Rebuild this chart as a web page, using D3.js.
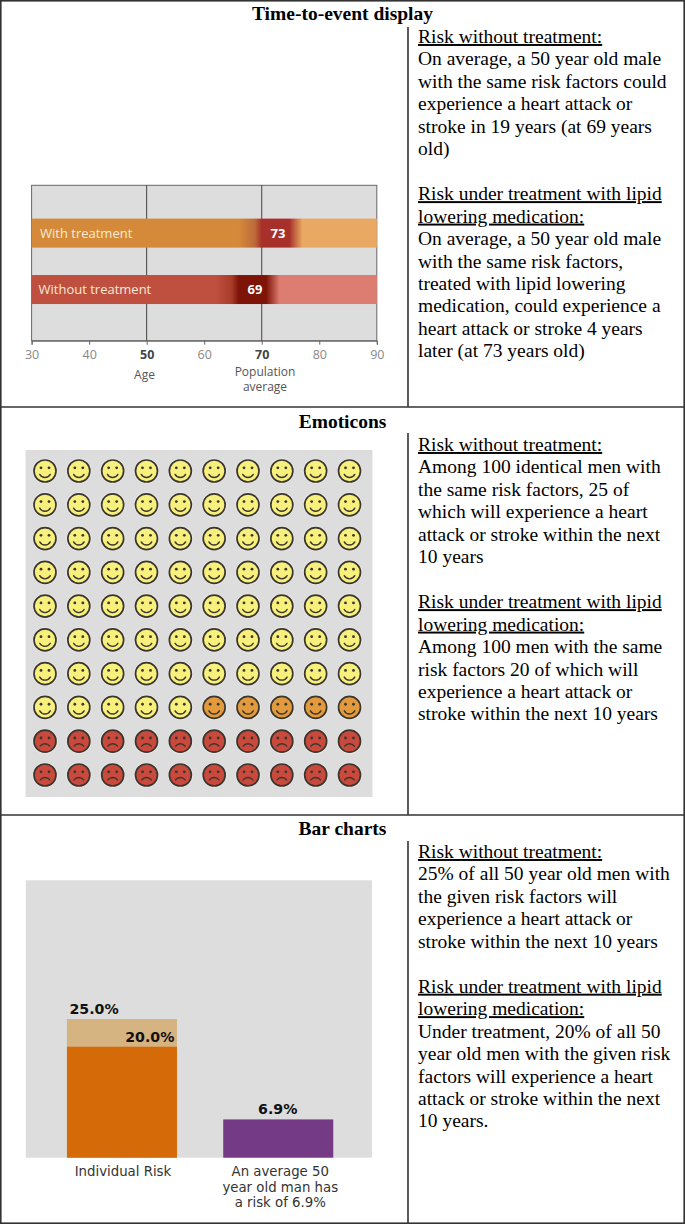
<!DOCTYPE html>
<html><head><meta charset="utf-8">
<script src="https://cdn.jsdelivr.net/npm/d3@7"></script>
<style>html,body{margin:0;padding:0;background:#fff}svg{display:block}</style></head>
<body><svg id="c" width="685" height="1224"></svg>
<script>
const sectionTitles=["Time-to-event display","Emoticons","Bar charts"];
const sectionText=[
 [["u","Risk without treatment:"],["","On average, a 50 year old male"],["","with the same risk factors could"],["","experience a heart attack or"],["","stroke in 19 years (at 69 years"],["","old)"],["",""],["u","Risk under treatment with lipid"],["u","lowering medication:"],["","On average, a 50 year old male"],["","with the same risk factors,"],["","treated with lipid lowering"],["","medication, could experience a"],["","heart attack or stroke 4 years"],["","later (at 73 years old)"]],
 [["u","Risk without treatment:"],["","Among 100 identical men with"],["","the same risk factors, 25 of"],["","which will experience a heart"],["","attack or stroke within the next"],["","10 years"],["",""],["u","Risk under treatment with lipid"],["u","lowering medication:"],["","Among 100 men with the same"],["","risk factors 20 of which will"],["","experience a heart attack or"],["","stroke within the next 10 years"]],
 [["u","Risk without treatment:"],["","25% of all 50 year old men with"],["","the given risk factors will"],["","experience a heart attack or"],["","stroke within the next 10 years"],["",""],["u","Risk under treatment with lipid"],["u","lowering medication:"],["","Under treatment, 20% of all 50"],["","year old men with the given risk"],["","factors will experience a heart"],["","attack or stroke within the next"],["","10 years."]]
];
const ageTicks=[30,40,50,60,70,80,90];
const ageBold=[50,70];
const timeLabels=["With treatment","Without treatment"];
const timeValues=[73,69];
const timeDark=["#a8302a","#7e1408"];
const timeMid=["#bd6a3a","#a83a28"];
const timeLeft=["#d58a3a","#bf5040"];
const timeRight=["#eaa962","#dd7c70"];
const emoRows=[0,1,2,3,4,5,6,7,8,9];
const emoCols=[0,1,2,3,4,5,6,7,8,9];
const emoTotal=100, emoUnaffected=75, emoPrevented=5;
const barCats=["Individual Risk","An average 50 year old man has a risk of 6.9%"];
const barLabelLines=[["Individual Risk"],["An average 50","year old man has","a risk of 6.9%"]];
const barUntreated=[25,6.9];
const barTreated=[20,null];

const svg=d3.select("#c");
const defs=svg.append("defs");
const sans="'DejaVu Sans',sans-serif", serif="'Liberation Serif',serif", open="'Open Sans',sans-serif";

// table frame
const rowTops=[0.5,407,815,1223];
const titleY=[20,428,835];
const colX=408;
const frame=svg.append("g").attr("stroke","#333").attr("stroke-width",1.6);
frame.append("rect").attr("x",.8).attr("y",.8).attr("width",683.4).attr("height",1222.4).attr("fill","none");
rowTops.slice(1,3).forEach(y=>frame.append("line").attr("x1",0).attr("x2",685).attr("y1",y).attr("y2",y));
rowTops.slice(0,3).forEach((y,i)=>frame.append("line").attr("x1",colX).attr("x2",colX).attr("y1",i==0?27:y+26).attr("y2",rowTops[i+1]));
svg.selectAll("text.t").data(sectionTitles).join("text").attr("class","t")
 .attr("x",342.5).attr("y",(d,i)=>titleY[i]).attr("text-anchor","middle")
 .attr("font-family",serif).attr("font-weight","bold").attr("font-size",19.5).attr("fill","#000").text(d=>d);
const textTop=[43,451,858];
sectionText.forEach((lines,s)=>{
 svg.append("g").selectAll("text").data(lines).join("text")
  .attr("x",418).attr("y",(d,i)=>textTop[s]+i*22.45)
  .attr("font-family",serif).attr("font-size",19.5).attr("fill","#000")
  .attr("text-decoration",d=>d[0]=="u"?"underline":null).text(d=>d[1]);
});

// time-to-event
const ageX=d3.scaleLinear().domain([30,90]).range([31.6,376.8]);
const timeY=d3.scaleBand().domain(timeLabels).range([185.3,340.7]).paddingInner(.486).paddingOuter(.62).align(.476);
const g1=svg.append("g");
g1.append("rect").attr("x",ageX(30)).attr("y",185.3).attr("width",ageX(90)-ageX(30)).attr("height",155.4).attr("fill","#dddddd").attr("stroke","#666").attr("stroke-width",1);
ageBold.forEach(a=>g1.append("line").attr("x1",ageX(a)).attr("x2",ageX(a)).attr("y1",185.3).attr("y2",340.7).attr("stroke","#444").attr("stroke-width",1));
timeLabels.forEach((l,i)=>{
 const v=timeValues[i], id="tg"+i;
 const a=ageX(30), w=ageX(90)-a, p=x=>((ageX(x)-a)/w*100)+"%";
 const gr=defs.append("linearGradient").attr("id",id);
 [[30,timeLeft[i]],[v-7,timeLeft[i]],[v-4.2,timeMid[i]],[v-3,timeDark[i]],[v+1.8,timeDark[i]],[v+4.1,timeRight[i]],[90,timeRight[i]]]
  .forEach(s=>gr.append("stop").attr("offset",p(s[0])).attr("stop-color",s[1]));
 g1.append("rect").attr("x",a).attr("y",timeY(l)).attr("width",w).attr("height",timeY.bandwidth()).attr("fill",`url(#${id})`);
 g1.append("text").attr("x",i?38.5:40).attr("y",timeY(l)+timeY.bandwidth()/2+4.5).attr("fill","#f6ead8").attr("font-family",open).attr("font-size",13).text(l);
 g1.append("text").attr("x",ageX(v)-1).attr("y",timeY(l)+timeY.bandwidth()/2+4.5).attr("text-anchor","middle").attr("fill","#fff").attr("font-weight","bold").attr("font-family",open).attr("font-size",13).text(v);
});
const ax=g1.append("g").attr("transform","translate(0,340.7)").call(d3.axisBottom(ageX).tickValues(ageTicks).tickSize(4).tickFormat(d=>d));
ax.select(".domain").attr("stroke","#666");
ax.selectAll("line").attr("stroke","#666");
ax.selectAll("text").attr("font-family",open).attr("font-size",12.5).attr("fill",d=>ageBold.includes(d)?"#444":"#888").attr("font-weight",d=>ageBold.includes(d)?"bold":null).attr("y",9.5);
[["Age",144.5,378.5],["Population",265,376],["average",265,391]].forEach(t=>
 g1.append("text").attr("x",t[1]).attr("y",t[2]).attr("text-anchor","middle").attr("font-family",open).attr("font-size",12).attr("fill","#555").text(t[0]));

// emoticons
const ex=d3.scalePoint().domain(emoCols).range([45,349.5]);
const ey=d3.scalePoint().domain(emoRows).range([471,775]);
const g2=svg.append("g");
g2.append("rect").attr("x",25.5).attr("y",450).attr("width",347).attr("height",347).attr("fill","#dddddd");
const people=d3.range(emoTotal);
const fg=g2.selectAll("g").data(people).join("g").attr("transform",d=>`translate(${ex(d%10)},${ey(Math.floor(d/10))})`);
const kind=d=>d<emoUnaffected?0:d<emoUnaffected+emoPrevented?1:2;
fg.append("circle").attr("r",12.6).attr("fill","#f4f4f4").attr("opacity",.6);
fg.append("circle").attr("r",11).attr("fill",d=>["#f8f07c","#e39a3c","#c9493c"][kind(d)]).attr("stroke","#3a362e").attr("stroke-width",1.7);
[-4,4].forEach(dx=>fg.append("circle").attr("cx",dx).attr("cy",-3.2).attr("r",1.4).attr("fill","#3a362e"));
fg.append("path").attr("fill","none").attr("stroke","#3a362e").attr("stroke-width",1.4).attr("stroke-linecap","round")
 .attr("d",d=>{const p=d3.path(); if(kind(d)==2){p.arc(0,8.5,6,-2.5,-0.64);}else{p.arc(0,0.5,6,0.5,Math.PI-0.5);} return p.toString();});

// bars
const by=d3.scaleLinear().domain([0,50]).range([1157.7,880.3]);
const bx=d3.scaleBand().domain(barCats).range([26,374.2]).paddingInner(.296).paddingOuter(.262);
const g3=svg.append("g");
g3.append("rect").attr("x",25.8).attr("y",by(50)).attr("width",346.2).attr("height",by(0)-by(50)).attr("fill","#dddddd");
barCats.forEach((c,i)=>{
 const x=bx(c),w=bx.bandwidth();
 if(i==0){
  g3.append("rect").attr("x",x).attr("y",by(barUntreated[0])).attr("width",w).attr("height",by(0)-by(barUntreated[0])).attr("fill","#d6b482");
  g3.append("rect").attr("x",x).attr("y",by(barTreated[0])).attr("width",w).attr("height",by(0)-by(barTreated[0])).attr("fill","#d56a08");
  g3.append("text").attr("x",x+2.5).attr("y",by(25)-5).attr("class","bv").text(barUntreated[0].toFixed(1)+"%");
  g3.append("text").attr("x",x+w-2.5).attr("y",by(20)-5).attr("text-anchor","end").attr("class","bv").text(barTreated[0].toFixed(1)+"%");
 } else {
  g3.append("rect").attr("x",x).attr("y",by(barUntreated[1])).attr("width",w).attr("height",by(0)-by(barUntreated[1])).attr("fill","#743a86");
  g3.append("text").attr("x",x+w/2-.5).attr("y",by(6.9)-5).attr("text-anchor","middle").attr("class","bv").text(barUntreated[1].toFixed(1)+"%");
 }
 barLabelLines[i].forEach((t,j)=>g3.append("text").attr("x",x+w/2+(i?2:1)).attr("y",1176+j*15.5).attr("text-anchor","middle").attr("font-family",sans).attr("font-size",13.3).attr("fill","#333").text(t));
});
g3.selectAll(".bv").attr("font-family",sans).attr("font-weight","bold").attr("font-size",14.2).attr("fill","#111");
</script></body></html>
